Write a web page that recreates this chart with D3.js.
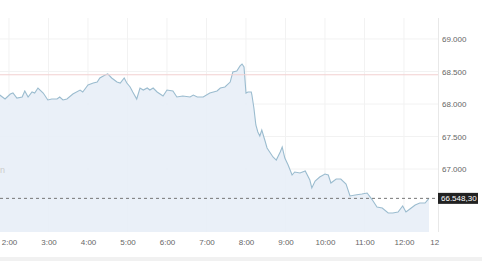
<!DOCTYPE html>
<html>
<head>
<meta charset="utf-8">
<script src="https://cdn.jsdelivr.net/npm/d3@7"></script>
<style>
  body { margin: 0; background: #fff; }
  svg { display: block; font-family: "Liberation Sans", Arial, sans-serif; }
  .axis text { fill: #666; font-size: 8px; }
  .axis path, .axis line { display: none; }
</style>
</head>
<body>
<div class="chart"></div>
<script>
// intraday prices
const times = ["1:46","1:54","2:02","2:06","2:12","2:20","2:24","2:29","2:35","2:39","2:44","2:52","2:59",
  "3:05","3:13","3:17","3:22","3:28","3:37","3:48","3:52","4:00","4:08","4:14","4:18","4:26","4:30","4:36",
  "4:44","4:49","4:55","4:59","5:04","5:08","5:14","5:19","5:24","5:30","5:34","5:39","5:45","5:54","6:00",
  "6:09","6:15","6:24","6:35","6:40","6:46","6:55","7:05","7:16","7:21","7:28","7:36","7:40","7:46","7:51",
  "7:54","7:57","8:00","8:03","8:08","8:09","8:12","8:15","8:18","8:21","8:24","8:29","8:32","8:36","8:41",
  "8:46","8:52","8:55","8:59","9:04","9:10","9:14","9:22","9:30","9:37","9:40","9:45","9:52","10:00","10:05",
  "10:09","10:17","10:24","10:32","10:38","10:46","10:56","11:04","11:11","11:19","11:27","11:36","11:43",
  "11:51","11:58","12:03","12:09","12:17","12:24","12:32","12:38"];
const prices = [68138,68077,68154,68169,68092,68108,68200,68108,68185,68169,68246,68169,68062,
  68077,68077,68108,68062,68077,68154,68215,68185,68292,68323,68338,68400,68446,68462,68400,
  68338,68323,68400,68323,68262,68185,68077,68246,68215,68246,68215,68246,68185,68123,68215,
  68200,68108,68123,68108,68138,68108,68108,68169,68200,68246,68262,68338,68492,68508,68585,
  68615,68569,68169,68185,68185,68138,67938,67677,67569,67508,67600,67431,67323,67262,67185,
  67138,67262,67338,67169,67062,66908,66954,66938,66969,66831,66708,66815,66877,66923,66908,
  66785,66846,66846,66769,66585,66600,66615,66631,66538,66415,66400,66323,66323,
  66338,66431,66338,66385,66446,66477,66477,66548.30];
const lastPrice = 66548.30;
const refPrice = 68450;
const yTicks = [67000, 67500, 68000, 68500, 69000];
const xTickTimes = ["2:00","3:00","4:00","5:00","6:00","7:00","8:00","9:00","10:00","11:00","12:00","12:46"];
const xTickLabels = ["2:00","3:00","4:00","5:00","6:00","7:00","8:00","9:00","10:00","11:00","12:00","12"];

const parseT = d3.timeParse("%H:%M");
const data = times.map((t, i) => ({ t: parseT(t), v: prices[i] }));

const de = d3.formatLocale({ decimal: ",", thousands: ".", grouping: [3], currency: ["", ""] });
const fmtTick = de.format(",");
const fmtPrice = de.format(",.2f");

const svg_width = 497, svg_height = 261;
const plot = { left: 0, right: 438, top: 18, bottom: 232 };

const svg = d3.select(".chart").append("svg")
  .attr("width", svg_width).attr("height", svg_height);

const xScale = d3.scaleTime()
  .domain([d3.timeParse("%H:%M:%S")("1:46:20"), d3.timeParse("%H:%M:%S")("12:51:40")])
  .range([plot.left, plot.right]);
const yScale = d3.scaleLinear([66031, 69323], [plot.bottom, plot.top]);

// bottom strip
svg.append("rect").attr("x", 0).attr("y", 257).attr("width", 482).attr("height", 4)
  .style("fill", "#f1f1f1");

// grid
const grid = svg.append("g").attr("class", "grid");
grid.selectAll(".hline").data(yTicks).join("line")
  .attr("x1", plot.left).attr("x2", plot.right)
  .attr("y1", d => yScale(d)).attr("y2", d => yScale(d))
  .style("stroke", "#f2f2f2");
grid.selectAll(".vline").data(xTickTimes.slice(0, -1)).join("line")
  .attr("x1", d => xScale(parseT(d))).attr("x2", d => xScale(parseT(d)))
  .attr("y1", plot.top).attr("y2", plot.bottom)
  .style("stroke", "#f2f2f2");
svg.append("line").attr("x1", plot.right + 0.5).attr("x2", plot.right + 0.5)
  .attr("y1", plot.top).attr("y2", plot.bottom).style("stroke", "#e8e8e8");

// area + line
const area = d3.area().x(d => xScale(d.t)).y0(plot.bottom).y1(d => yScale(d.v));
const line = d3.line().x(d => xScale(d.t)).y(d => yScale(d.v));
svg.append("path").datum(data).attr("d", area).style("fill", "#e8eef7").style("fill-opacity", 0.9);
svg.append("path").datum(data).attr("d", line)
  .style("fill", "none").style("stroke", "#9bbccf").style("stroke-width", 1.1);

// faint text at left edge
svg.append("text").attr("x", 0).attr("y", 173).text("n")
  .style("font-size", "9px").style("fill", "#ccc");

// reference line
svg.append("line").attr("x1", plot.left).attr("x2", plot.right)
  .attr("y1", yScale(refPrice)).attr("y2", yScale(refPrice))
  .style("stroke", "#f2d0d0").style("stroke-width", 1);

// last price dashed line
svg.append("line").attr("x1", plot.left).attr("x2", plot.right)
  .attr("y1", yScale(lastPrice)).attr("y2", yScale(lastPrice))
  .style("stroke", "#777").style("stroke-width", 1).style("stroke-dasharray", "3,3");

// y axis
const yAxis = d3.axisRight(yScale).tickValues(yTicks).tickFormat(fmtTick).tickSize(0).tickPadding(4);
svg.append("g").attr("class", "y axis").attr("transform", `translate(${plot.right},0)`).call(yAxis);

// x axis
const xAxis = d3.axisBottom(xScale).tickValues(xTickTimes.map(parseT))
  .tickFormat((d, i) => xTickLabels[i]).tickSize(0).tickPadding(7);
svg.append("g").attr("class", "x axis").attr("transform", `translate(0,${plot.bottom})`).call(xAxis);

// price badge
const badge = svg.append("g").attr("transform", `translate(${plot.right},${yScale(lastPrice)})`);
badge.append("rect").attr("x", 0).attr("y", -5.5).attr("width", 40).attr("height", 11).style("fill", "#222");
badge.append("text").attr("x", 3).attr("y", 3).text(fmtPrice(lastPrice))
  .style("font-size", "8px").style("fill", "#fff");
</script>
</body>
</html>
